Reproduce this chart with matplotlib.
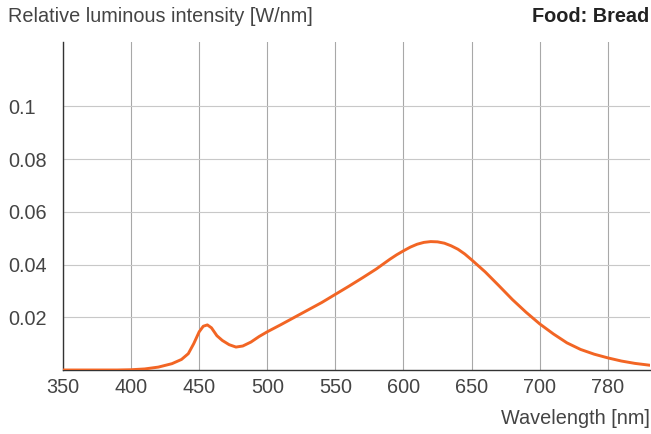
import numpy as np
import matplotlib.pyplot as plt

plt.rcParams['font.family'] = ['Liberation Sans', 'DejaVu Sans']

# spectrum
wavelength = [350, 360, 370, 380, 390, 400, 410, 420, 430, 437, 442, 446, 450,
              453, 456, 459, 463, 467, 472, 477, 482, 488, 494, 500, 510, 520,
              530, 540, 550, 560, 570, 580, 590, 595, 600, 605, 610, 615, 620, 625,
              630, 635, 640, 645, 650, 660, 670, 680, 690, 700, 710, 720, 730, 740,
              750, 760, 770, 781]
intensity = [0, 0, 0, 0, 0, 0.0001, 0.0004, 0.0011, 0.0024, 0.0040, 0.0062, 0.0100, 0.0145,
             0.0166, 0.0171, 0.0160, 0.0130, 0.0112, 0.0096, 0.0087, 0.0091, 0.0106, 0.0127,
             0.0145, 0.0172, 0.0200, 0.0228, 0.0256, 0.0287, 0.0318, 0.0350, 0.0383, 0.0420,
             0.0437, 0.0452, 0.0466, 0.0477, 0.0484, 0.0487, 0.0486, 0.0481, 0.0471, 0.0458,
             0.0440, 0.0418, 0.0372, 0.0320, 0.0267, 0.0219, 0.0175, 0.0137, 0.0103, 0.0078,
             0.0060, 0.0046, 0.0034, 0.0025, 0.0018]

x_ticks = [350, 400, 450, 500, 550, 600, 650, 700, 750]
x_labels = ['350', '400', '450', '500', '550', '600', '650', '700', '780']
y_ticks = [0.02, 0.04, 0.06, 0.08, 0.1]
y_labels = ['0.02', '0.04', '0.06', '0.08', '0.1']

txt = '#444444'
fs = 14.3

fig = plt.figure(figsize=(6.51, 4.34), dpi=100)
ax = fig.add_axes([63 / 651, 1 - 370 / 434, 587 / 651, 328 / 434])

ax.plot(wavelength, intensity, color='#f26524', lw=2.1, solid_capstyle='round',
        solid_joinstyle='round', zorder=3)

ax.set_xlim(350, 781)
ax.set_ylim(0, 0.1244)
ax.set_xticks(x_ticks)
ax.set_xticklabels(x_labels)
ax.set_yticks(y_ticks)
ax.set_yticklabels(y_labels)

for lbl in ax.get_yticklabels():
    lbl.set_horizontalalignment('left')

ax.tick_params(axis='x', length=0, pad=5.5, labelsize=fs, labelcolor=txt)
ax.tick_params(axis='y', length=0, pad=39.6, labelsize=fs, labelcolor=txt)

ax.grid(axis='x', color='#a8a8a8', lw=0.8)
ax.grid(axis='y', color='#c8c8c8', lw=0.8)
ax.set_axisbelow(True)

for s in ['top', 'right']:
    ax.spines[s].set_visible(False)
for s in ['left', 'bottom']:
    ax.spines[s].set_color('#333333')
    ax.spines[s].set_linewidth(1.0)

fig.text(8 / 651, 1 - 17 / 434, 'Relative luminous intensity [W/nm]', fontsize=fs,
         color=txt, ha='left', va='center')
fig.text(649 / 651, 1 - 17 / 434, 'Food: Bread', fontsize=fs, fontweight='bold',
         color='#222222', ha='right', va='center')
fig.text(650 / 651, 1 - 419 / 434, 'Wavelength [nm]', fontsize=fs,
         color=txt, ha='right', va='center')

fig.savefig('out.png', dpi=100)
